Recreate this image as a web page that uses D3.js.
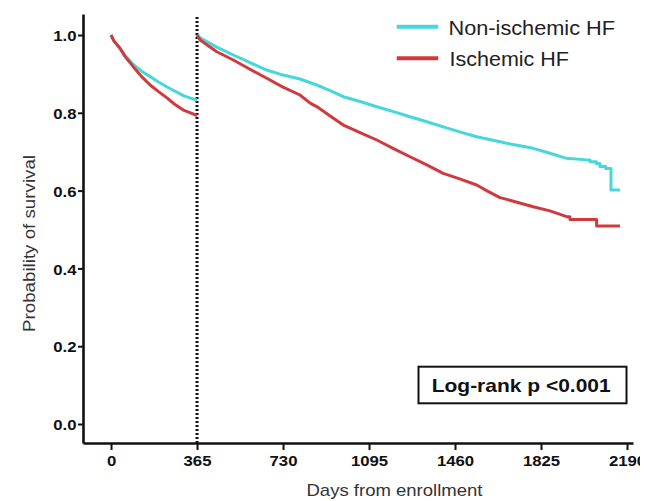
<!DOCTYPE html>
<html>
<head>
<meta charset="utf-8">
<script src="https://cdn.jsdelivr.net/npm/d3@7"></script>
<style>
  html, body { margin: 0; padding: 0; background: #fff; }
  svg { display: block; }
  text { font-family: "Liberation Sans", Arial, Helvetica, sans-serif; }
</style>
</head>
<body>
<svg id="chart" width="648" height="501"></svg>
<script>
// ---------- DATA ----------
const seriesNames = ["Non-ischemic HF", "Ischemic HF"];
const landmarkDay = 365;
const xTickValues = [0, 365, 730, 1095, 1460, 1825, 2190];
const yTickValues = [0.0, 0.2, 0.4, 0.6, 0.8, 1.0];
const pValueText = "Log-rank p <0.001";
const xTitle = "Days from enrollment";
const yTitle = "Probability of survival";

// Non-ischemic HF, first year (0-365)
const nonIschY1Days = [0, 12, 38, 59, 95, 130, 166, 200, 236, 270, 307, 340, 365];
const nonIschY1Surv = [1.0, 0.985, 0.966, 0.948, 0.924, 0.907, 0.893, 0.880, 0.867, 0.856, 0.844, 0.837, 0.833];
// Ischemic HF, first year (0-365)
const ischY1Days = [0, 12, 38, 59, 95, 130, 166, 200, 236, 270, 307, 340, 365];
const ischY1Surv = [1.0, 0.985, 0.966, 0.945, 0.918, 0.893, 0.8715, 0.855, 0.839, 0.822, 0.807, 0.799, 0.7925];

// Non-ischemic HF, landmark from day 365
const nonIschLmDays = [365, 378, 449, 519, 590, 661, 730, 802, 873, 930, 986, 1057, 1128, 1199, 1269, 1340, 1410, 1480, 1552, 1651, 1700, 1792, 1863, 1934, 2020, 2033, 2033, 2060, 2060, 2075, 2075, 2100, 2100, 2122, 2122, 2160];
const nonIschLmSurv = [1.0, 0.993, 0.969, 0.9486, 0.929, 0.910, 0.897, 0.887, 0.8715, 0.857, 0.8414, 0.829, 0.8157, 0.803, 0.790, 0.777, 0.764, 0.751, 0.7386, 0.7257, 0.719, 0.7087, 0.6959, 0.683, 0.679, 0.679, 0.674, 0.674, 0.670, 0.670, 0.662, 0.662, 0.657, 0.657, 0.6015, 0.6015];
// Ischemic HF, landmark from day 365
const ischLmDays = [365, 378, 449, 519, 590, 661, 730, 802, 845, 873, 930, 986, 1057, 1128, 1199, 1269, 1340, 1410, 1480, 1552, 1600, 1651, 1700, 1792, 1863, 1934, 1948, 1948, 2061, 2061, 2160];
const ischLmSurv = [1.0, 0.987, 0.957, 0.9357, 0.912, 0.8887, 0.866, 0.8458, 0.825, 0.816, 0.792, 0.7686, 0.749, 0.7301, 0.708, 0.687, 0.666, 0.6445, 0.630, 0.6144, 0.598, 0.582, 0.574, 0.5586, 0.548, 0.533, 0.533, 0.526, 0.526, 0.509, 0.509];

// ---------- LAYOUT ----------
const colors = { nonIsch: "#45D7D9", isch: "#D03A3C" };
const svg = d3.select("#chart");
const plotLeft = 83, plotRight = 633, plotTop = 14, plotBottom = 443;
const x = d3.scaleLinear().domain([-119, 2215.5]).range([plotLeft, plotRight]);
const y = d3.scaleLinear().domain([-0.0488, 1.054]).range([plotBottom, plotTop]);

svg.append("defs").append("clipPath").attr("id", "pageclip")
  .append("rect").attr("x", 0).attr("y", 0).attr("width", 640).attr("height", 501);
const root = svg.append("g").attr("clip-path", "url(#pageclip)");

// Landmark dotted line
root.append("line")
  .attr("x1", x(landmarkDay)).attr("x2", x(landmarkDay))
  .attr("y1", 17).attr("y2", plotBottom)
  .attr("stroke", "#111").attr("stroke-width", 3)
  .attr("stroke-dasharray", "2,2");

// Curves
const line = d3.line().x(d => x(d[0])).y(d => y(d[1]));
const zip = (a, b) => a.map((v, i) => [v, b[i]]);
const curves = [
  { days: nonIschY1Days, surv: nonIschY1Surv, color: colors.nonIsch },
  { days: ischY1Days, surv: ischY1Surv, color: colors.isch },
  { days: nonIschLmDays, surv: nonIschLmSurv, color: colors.nonIsch },
  { days: ischLmDays, surv: ischLmSurv, color: colors.isch }
];
root.selectAll("path.curve").data(curves).enter().append("path")
  .attr("class", "curve")
  .attr("d", c => line(zip(c.days, c.surv)))
  .attr("fill", "none")
  .attr("stroke", c => c.color)
  .attr("stroke-width", 3)
  .attr("stroke-linejoin", "round");

// Axes
const yAxis = d3.axisLeft(y).tickValues(yTickValues).tickFormat(d3.format(".1f"))
  .tickSize(5).tickSizeOuter(0).tickPadding(1.5);
const xAxis = d3.axisBottom(x).tickValues(xTickValues).tickFormat(d3.format("d"))
  .tickSize(7).tickSizeOuter(0).tickPadding(5);

const gy = root.append("g").attr("transform", `translate(${plotLeft},0)`).call(yAxis);
const gx = root.append("g").attr("transform", `translate(0,${plotBottom})`).call(xAxis);
[gx, gy].forEach(g => {
  g.select(".domain").attr("stroke", "#111").attr("stroke-width", 2.6);
  g.selectAll(".tick line").attr("stroke", "#111").attr("stroke-width", 2);
  g.selectAll(".tick text")
    .attr("fill", "#111")
    .style("font-size", "15.5px")
    .style("font-weight", "bold")
    .style("font-family", "'Liberation Sans', Arial, sans-serif");
});
gy.selectAll(".tick text").attr("dy", "0.36em");

// Axis titles
root.append("text")
  .attr("x", 306.5).attr("y", 496)
  .attr("fill", "#333")
  .style("font-size", "17px")
  .attr("class", "stretch").attr("data-w", 176)
  .text(xTitle);
root.append("text")
  .attr("transform", "translate(35,332) rotate(-90)")
  .attr("fill", "#333")
  .style("font-size", "17px")
  .attr("class", "stretch").attr("data-w", 177)
  .text(yTitle);

// Legend
const legendItems = [
  { name: seriesNames[0], color: colors.nonIsch, ly: 26.7, ty: 34.5, w: 166.5, tx: 448.5 },
  { name: seriesNames[1], color: colors.isch, ly: 58.3, ty: 65.5, w: 119.5, tx: 449.5 }
];
const lg = root.append("g");
legendItems.forEach(it => {
  lg.append("line").attr("x1", 396.7).attr("x2", 438.3)
    .attr("y1", it.ly).attr("y2", it.ly)
    .attr("stroke", it.color).attr("stroke-width", 4);
  lg.append("text").attr("x", it.tx).attr("y", it.ty)
    .attr("fill", "#222").style("font-size", "20px")
    .attr("class", "stretch").attr("data-w", it.w)
    .text(it.name);
});

// p-value box
root.append("rect")
  .attr("x", 418.5).attr("y", 366.7).attr("width", 208).attr("height", 36.6)
  .attr("fill", "#fff").attr("stroke", "#111").attr("stroke-width", 2);
root.append("text")
  .attr("x", 431.7).attr("y", 392.3)
  .attr("fill", "#111")
  .style("font-size", "19px").style("font-weight", "bold")
  .attr("class", "stretch").attr("data-w", 179)
  .text(pValueText);

// Horizontal stretch to match reference proportions
root.selectAll("text.stretch").each(function() {
  const el = d3.select(this);
  el.attr("textLength", +el.attr("data-w")).attr("lengthAdjust", "spacingAndGlyphs");
});
root.selectAll(".tick text").each(function() {
  const w = this.getComputedTextLength();
  d3.select(this).attr("textLength", w * 1.08).attr("lengthAdjust", "spacingAndGlyphs");
});
</script>
</body>
</html>
